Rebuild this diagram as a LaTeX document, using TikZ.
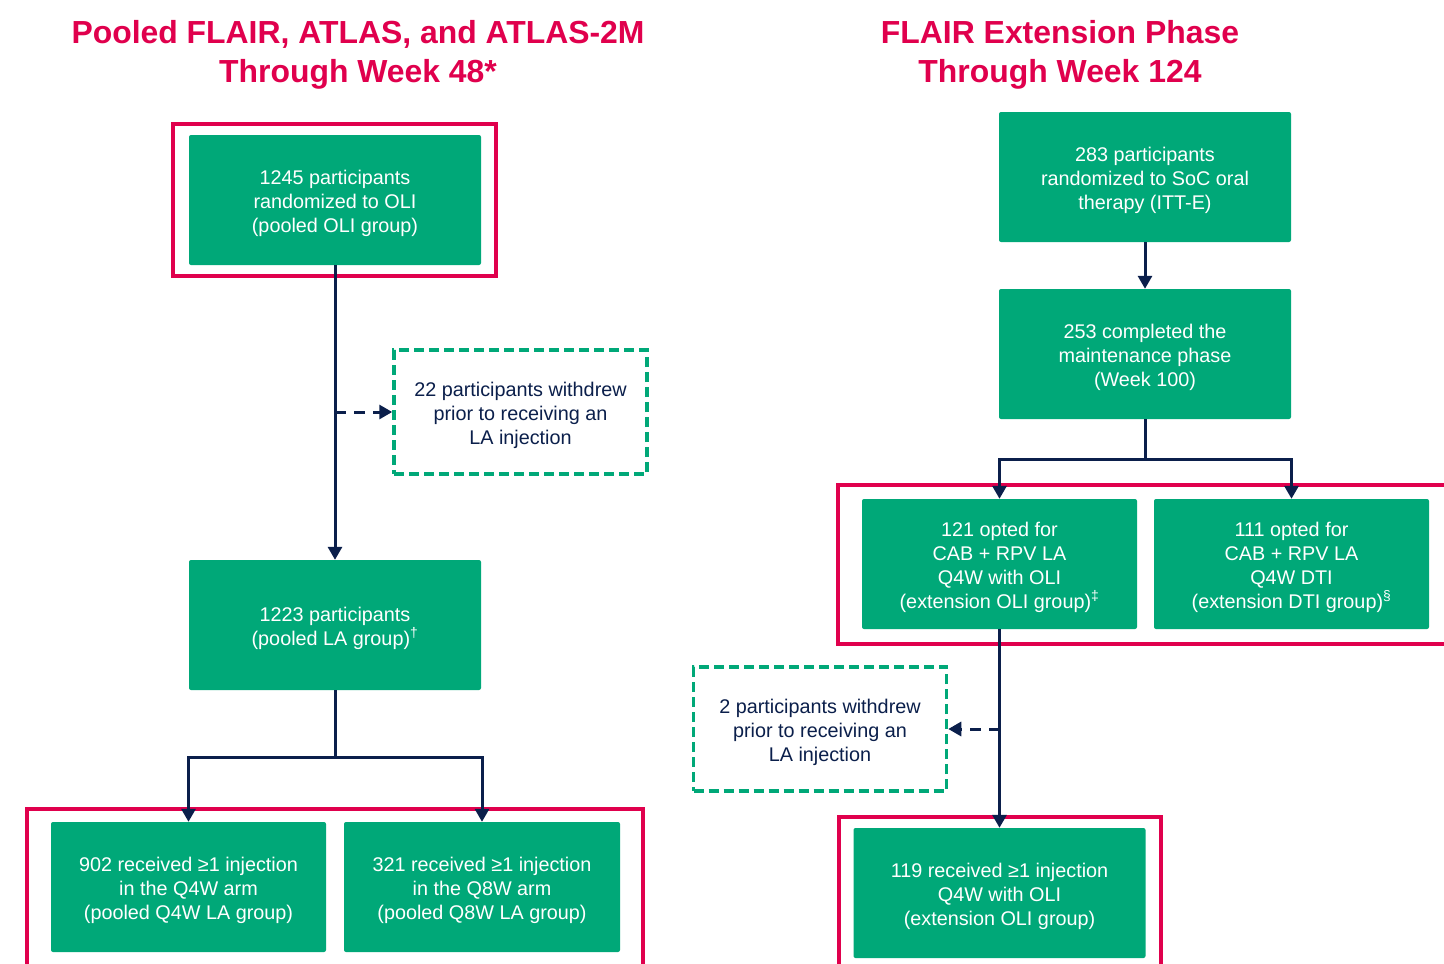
\documentclass[tikz,border=0pt]{standalone}
\usepackage{fontspec}
\setmainfont{Liberation Sans}
\usetikzlibrary{arrows.meta}
\definecolor{gr}{HTML}{00A878}
\definecolor{nv}{HTML}{0B1F4B}
\definecolor{rd}{HTML}{E0004D}
\newcommand\T{\rule{0pt}{20.5pt}}
\begin{document}
\begin{tikzpicture}[x=1pt,y=-1pt,
  gbox/.style={fill=gr, text=white, rounded corners=2pt, minimum width=292pt, minimum height=130pt, inner sep=0pt, align=center, font=\fontsize{19.8}{24}\selectfont},
  nbox/.style={gbox, minimum width=275pt},
  wbox/.style={draw=gr, line width=3.5pt, dash pattern=on 10pt off 5pt, text=nv, align=center, minimum width=253pt, minimum height=124pt, inner sep=0pt, font=\fontsize{19.8}{24}\selectfont},
  frame/.style={draw=rd, line width=4pt},
  line/.style={draw=nv, line width=3pt},
  arr/.style={line, -{Triangle[width=14pt,length=13pt]}},
  darr/.style={arr, dash pattern=on 11pt off 8pt},
  ttl/.style={text=rd, align=center, font=\fontsize{31.9}{39}\selectfont\bfseries, inner sep=0pt}]
\clip (0,0) rectangle (1444,964);
\fill[white] (0,0) rectangle (1444,964);

% titles
\node[ttl] (t1) at (358,55) {Pooled FLAIR, ATLAS, and ATLAS-2M\\Through Week 48*};
\node[ttl] (t2) at (1060,55) {FLAIR Extension Phase\\Through Week 124};

% red frames
\draw[frame] (173,124) rectangle (496,276);
\draw[frame] (27,809) rectangle (643,990);
\draw[frame] (838,485) rectangle (1460,644);
\draw[frame] (839,817) rectangle (1161,990);

% left column
\node[gbox] (b1) at (335,200) {\T 1245 participants\\randomized to OLI\\(pooled OLI group)};
\node[wbox] (wd1) at (520.5,412) {\T 22 participants withdrew\\prior to receiving an\\LA injection};
\node[gbox] (b2) at (335,625) {\T 1223 participants\\(pooled LA group)\textsuperscript{†}};
\node[nbox] (q4) at (188.5,887) {\T 902 received ≥1 injection\\in the Q4W arm\\(pooled Q4W LA group)};
\node[nbox, minimum width=276pt] (q8) at (482,887) {\T 321 received ≥1 injection\\in the Q8W arm\\(pooled Q8W LA group)};

\coordinate (j1) at (335,412);
\coordinate (br1) at (335,757);
\draw[arr] (b1.south) -- (b2.north);
\draw[darr] (j1) -- (wd1.west);
\draw[line] (b2.south) -- (br1);
\draw[arr] (br1) -| (q4.north);
\draw[arr] (br1) -| (q8.north);

% right column
\node[gbox] (A) at (1145,177) {\T 283 participants\\randomized to SoC oral\\therapy (ITT-E)};
\node[gbox] (B) at (1145,354) {\T 253 completed the\\maintenance phase\\(Week 100)};
\node[nbox] (C) at (999.5,564) {\T 121 opted for\\CAB + RPV LA\\Q4W with OLI\\(extension OLI group)\textsuperscript{‡}};
\node[nbox] (D) at (1291.5,564) {\T 111 opted for\\CAB + RPV LA\\Q4W DTI\\(extension DTI group)\textsuperscript{§}};
\node[wbox] (wd2) at (820,729) {\T 2 participants withdrew\\prior to receiving an\\LA injection};
\node[gbox] (E) at (999.5,893) {\T 119 received ≥1 injection\\Q4W with OLI\\(extension OLI group)};

\coordinate (br2) at (1145,459);
\coordinate (j2) at (999.5,729);
\draw[arr] (A.south) -- (B.north);
\draw[line] (B.south) -- (br2);
\draw[arr] (br2) -| (C.north);
\draw[arr] (br2) -| (D.north);
\draw[arr] (C.south) -- (E.north);
\draw[darr] (j2) -- (wd2.east);
\end{tikzpicture}
\end{document}
